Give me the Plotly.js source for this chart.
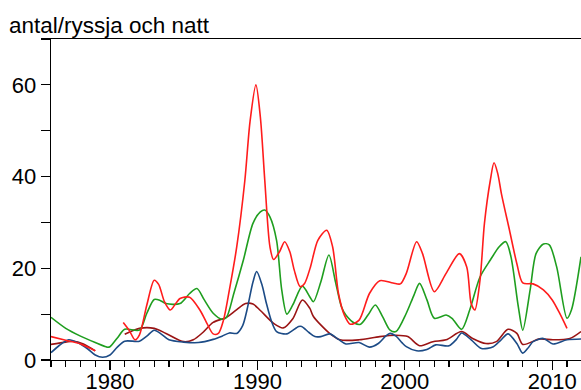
<!DOCTYPE html>
<html>
<head>
<meta charset="utf-8">
<script src="https://cdn.plot.ly/plotly-3.0.1.min.js"></script>
<style>html,body{margin:0;padding:0;background:#fff;}#chart{width:581px;height:390px;}</style>
</head>
<body>
<div id="chart"></div>
<script>
// Blue series
const blueYears = [1976,1976.5,1977.2,1977.8,1978.5,1979,1979.5,1980,1980.5,1981,1982,1982.5,1983,1983.5,1984,1985,1986,1987,1987.6,1988.1,1988.6,1989,1989.3,1989.7,1989.95,1990.3,1990.6,1990.95,1991.3,1992,1992.8,1993,1993.5,1993.9,1994.3,1994.9,1995.5,1996,1996.9,1997.6,1998.2,1998.7,1999,1999.4,1999.8,2000.1,2000.8,2001.5,2002.1,2003,2003.5,2003.85,2004.5,2005.2,2006,2006.5,2007,2007.6,2008,2008.4,2008.7,2009.4,2010.05,2011,2012];
const blueVals  = [1.6,3.0,4.4,3.8,2.4,1.1,0.6,1.1,2.8,4.1,4.1,5.2,6.5,5.6,4.4,3.9,3.8,4.5,5.2,5.9,5.8,7.5,11,17,19.3,16.5,12.5,8.5,6.2,5.7,7.3,7.3,6.0,5.1,5.1,5.7,4.5,3.5,3.8,2.8,3.6,5.2,5.8,5.2,3.8,2.9,2.0,2.3,3.3,3.1,4.5,5.9,4.4,2.5,2.9,4.3,5.7,3.6,1.5,2.8,4.0,4.7,3.5,4.4,4.6];

// Green series
const greenYears = [1976,1977,1978,1979,1979.8,1980,1980.5,1981,1982,1982.5,1983,1983.4,1983.8,1984.75,1985.4,1985.9,1986.4,1987,1987.6,1987.9,1988.4,1989.05,1989.7,1990.2,1990.5,1990.85,1991.3,1991.65,1992,1992.4,1993.05,1993.55,1993.8,1994.3,1994.85,1995.3,1995.7,1996,1996.6,1997,1997.5,1998,1998.5,1999,1999.4,2000.1,2000.6,2001,2001.5,2002,2002.8,2003.2,2003.85,2004.4,2005.1,2005.8,2006.4,2006.85,2007.2,2007.7,2008,2008.5,2008.9,2009.4,2009.8,2010.3,2011,2011.3,2011.95];
const greenVals  = [9.3,6.9,5.2,3.8,2.8,2.9,4.8,6.7,6.5,10.2,13.2,13.0,12.3,12.3,14.5,15.6,13.1,10.2,8.9,9.3,14.5,21.8,29.8,32.3,32.7,31.2,26.1,15.3,10.0,12,16.1,13.8,12.7,17,22.9,17,11.6,9.8,8.0,7.8,9.8,12,9.4,6.5,6.2,10.2,14,16.7,13.1,9.1,9.8,9.1,6.7,10.9,18.1,21.8,24.7,25.8,22.5,11.6,6.5,15.3,23.2,25.3,25.1,20.3,9.1,10.9,22.5];

// Red series (null = gap)
const redYears = [1976,1977,1978,1979,1980,1980.9,1981.3,1981.7,1982,1982.5,1983,1983.3,1983.7,1984.1,1984.5,1984.75,1985.4,1986.1,1986.5,1987,1987.35,1987.7,1988.1,1988.6,1989.15,1989.5,1989.9,1990.2,1990.5,1990.85,1991.1,1991.5,1991.85,1992.2,1992.5,1992.9,1993.2,1993.6,1994.1,1994.7,1995.1,1995.5,1995.9,1996.3,1996.9,1997.6,1998.3,1999.2,1999.7,2000.1,2000.8,2001.2,2002,2002.8,2003.7,2004.2,2004.5,2004.75,2005.1,2005.4,2005.8,2006.05,2006.3,2006.55,2007.1,2007.6,2008,2008.7,2009.4,2010,2010.5,2011];
const redVals  = [5.1,4.3,3.5,2.0,null,8.2,6.5,4.4,5.5,12,17.4,16.5,12.7,10.9,12.5,13.4,13.7,10.9,8.5,5.7,5.8,8.7,15.3,24.7,39.2,52,60,53,39.2,24.7,21.9,23.6,25.8,23.6,19.6,16,16.7,20.3,26.1,28.3,24.7,14.5,9.8,7.8,8.7,14.5,17.3,16.8,16.6,18.9,25.8,23.2,14.9,18.9,23.2,20.3,12.3,10.9,17.4,29.8,39.2,43,40.7,36.3,28.3,21.0,16.8,16.6,15.3,13.1,10.2,6.9];

// Dark red series (null = gap)
const darkYears = [1976,1977,1977.5,1978.2,1979,1980,1981,1982,1983,1983.8,1985,1985.65,1986.3,1987,1987.9,1988.6,1989.2,1989.7,1990.2,1991.1,1991.75,1992.4,1993.05,1993.55,1993.8,1994.9,1995.6,1996.9,1998.3,1999.4,2000.2,2001,2001.9,2002.8,2003.85,2004.6,2005.5,2006.2,2007,2007.6,2008,2009.15,2010.05,2011.2,2011.95];
const darkVals  = [3.4,3.9,4.1,3.5,2.0,null,5.6,6.9,6.9,5.8,4.0,4.4,6,8.2,9.3,11,12.3,12.2,10.8,8.0,7.0,9.0,13.1,11.3,9.5,5.8,4.4,4.4,5.1,5.4,5.1,3.1,4.0,4.4,6.2,4.7,3.6,4.0,6.7,5.8,3.4,4.6,4.4,4.7,6.2];

const decadeTicks = [1980, 1990, 2000, 2010];
const decadeLabels = ['1980', '1990', '2000', '2010'];
const yTicks = [0, 20, 40, 60];
const yLabels = ['0', '20', '40', '60'];

function tr(x, y, color) {
  return {x: x, y: y, type: 'scatter', mode: 'lines', connectgaps: false,
    line: {color: color, width: 1.6, shape: 'spline', smoothing: 0.8},
    hoverinfo: 'skip', showlegend: false};
}

const data = [
  tr(darkYears, darkVals, '#9a1414'),
  tr(blueYears, blueVals, '#1c4b86'),
  tr(greenYears, greenVals, '#1f9e1f'),
  tr(redYears, redVals, '#ff1c1c')
];

const fam = 'Liberation Sans, Arial, Helvetica, sans-serif';
const font = {family: fam, size: 22, color: '#000'};

const layout = {
  width: 581, height: 390,
  margin: {l: 51, r: 0, t: 39, b: 30, pad: 0},
  paper_bgcolor: '#fff', plot_bgcolor: '#fff',
  font: font,
  showlegend: false,
  title: {text: 'antal/ryssja och natt', x: 9/581, xanchor: 'left', xref: 'container',
          y: 1 - 25/390, yanchor: 'middle', yref: 'container', font: {family: fam, size: 22.5, color: '#000'}},
  xaxis: {
    range: [1976, 2011.95], showgrid: false, zeroline: false,
    showline: true, linecolor: '#000', linewidth: 1.3, mirror: true,
    tickmode: 'array', tickvals: decadeTicks, ticktext: decadeLabels,
    ticks: 'outside', ticklen: 9, tickwidth: 1.2, tickcolor: '#000',
    ticklabelstandoff: -8,
    minor: {dtick: 1, tick0: 1976, ticks: 'outside', ticklen: 6, tickwidth: 1.2, tickcolor: '#000', showgrid: false},
    tickfont: font, fixedrange: true
  },
  yaxis: {
    range: [0, 70], showgrid: false, zeroline: false,
    showline: true, linecolor: '#000', linewidth: 1.3, mirror: false,
    tickmode: 'array', tickvals: yTicks, ticktext: yLabels,
    ticks: 'outside', ticklen: 9, tickwidth: 1.2, tickcolor: '#000',
    minor: {dtick: 10, tick0: 0, ticks: 'outside', ticklen: 9, tickwidth: 1.2, tickcolor: '#000', showgrid: false},
    tickfont: font, fixedrange: true
  }
};

Plotly.newPlot('chart', data, layout, {staticPlot: true, displayModeBar: false});
</script>
</body>
</html>
